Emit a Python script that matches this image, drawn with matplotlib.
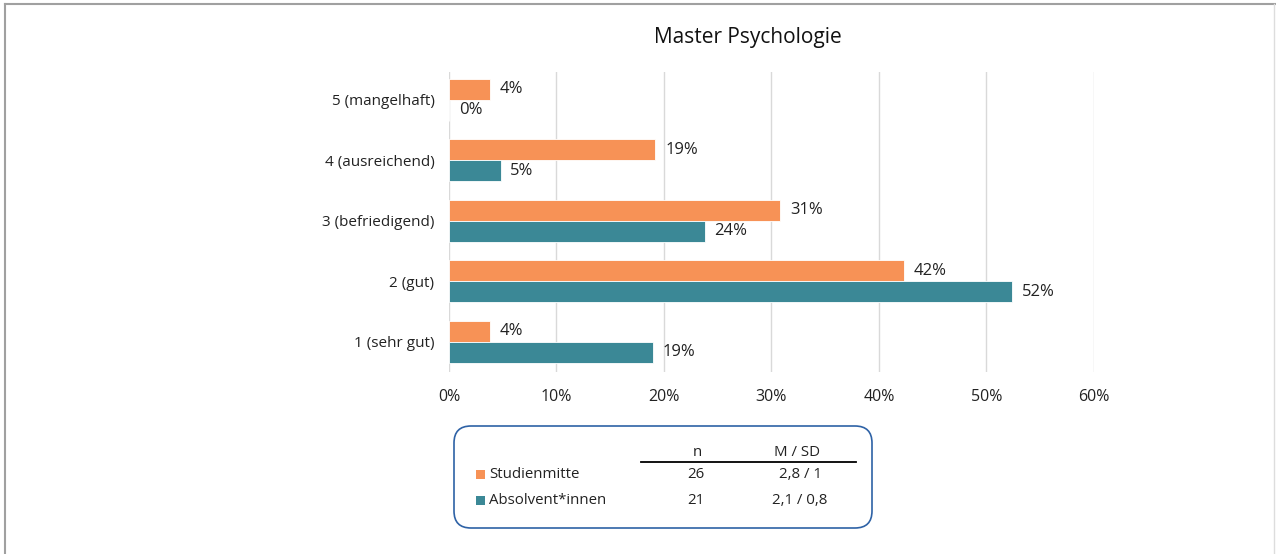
import matplotlib
matplotlib.use("Agg")
import matplotlib.pyplot as plt
from matplotlib.patches import FancyBboxPatch, Rectangle
import numpy as np

plt.rcParams['font.family'] = ['Open Sans', 'DejaVu Sans']

categories = ["1 (sehr gut)", "2 (gut)", "3 (befriedigend)", "4 (ausreichend)", "5 (mangelhaft)"]
studienmitte = [3.85, 42.3, 30.8, 19.2, 3.85]
absolventen = [19.0, 52.4, 23.8, 4.8, 0.0]
series_names = ["Studienmitte", "Absolvent*innen"]
n_values = ["26", "21"]
msd_values = ["2,8 / 1", "2,1 / 0,8"]
xticks = [0, 10, 20, 30, 40, 50, 60]
title = "Master Psychologie"

c_orange = "#F79256"
c_teal = "#3B8896"
txt = "#222222"

fig = plt.figure(figsize=(12.76, 5.54), dpi=100)
W, H = 1276, 554

# pixel-space overlay axes for frame, title and legend box
ov = fig.add_axes([0, 0, 1, 1], zorder=-1)
ov.set_xlim(0, W)
ov.set_ylim(H, 0)
ov.axis("off")
ov.plot([5, 5], [H, 4], color="#A0A0A0", lw=1.5)
ov.plot([5, W], [4, 4], color="#A0A0A0", lw=1.5)
ov.plot([1274, 1274], [4, H], color="#DDDDDD", lw=1)

ax = fig.add_axes([449/W, 1 - 372/H, (1094 - 449)/W, (372 - 72)/H])
y = np.arange(len(categories))
h = 0.35
b1 = ax.barh(y + h/2, studienmitte, height=h, color=c_orange, edgecolor="white", linewidth=0.6, zorder=3)
b2 = ax.barh(y - h/2, absolventen, height=h, color=c_teal, edgecolor="white", linewidth=0.6, zorder=3)
for bars, vals in ((b1, studienmitte), (b2, absolventen)):
    for bar, v in zip(bars, vals):
        ax.annotate(f"{round(v):d}%", (v, bar.get_y() + bar.get_height()/2),
                    xytext=(7, 0), textcoords="offset points", va="center", ha="left",
                    fontsize=12, color=txt)

ax.set_xlim(0, 60)
ax.set_ylim(-0.5, 4.46)
ax.set_xticks(xticks)
ax.set_xticklabels([f"{t}%" for t in xticks], fontsize=11.5, color=txt)
ax.set_yticks(y)
ax.set_yticklabels(categories, fontsize=11, color=txt)
ax.tick_params(axis="both", length=0)
ax.tick_params(axis="x", pad=12)
ax.tick_params(axis="y", pad=10.5)
ax.grid(axis="x", color="#D9D9D9", lw=1, zorder=0)
for s in ax.spines.values():
    s.set_visible(False)

ov.text(748, 38, title, ha="center", va="center", fontsize=15, color="#111111")

# legend box
box = FancyBboxPatch((454, 426), 872 - 454, 528 - 426,
                     boxstyle="round,pad=0,rounding_size=17",
                     facecolor="white", edgecolor="#2E62A6", lw=1.2)
ov.add_patch(box)
ov.text(697, 452, "n", ha="center", va="center", fontsize=10.8, color=txt)
ov.text(797, 452, "M / SD", ha="center", va="center", fontsize=10.8, color=txt)
ov.plot([641, 856], [462, 462], color="black", lw=1.3)
rows_y = [474, 500]
for ny, name, col, nv, mv in zip(rows_y, series_names, [c_orange, c_teal], n_values, msd_values):
    ov.add_patch(Rectangle((476, ny - 4), 9, 9, facecolor=col, edgecolor="none"))
    ov.text(489, ny, name, ha="left", va="center", fontsize=10.8, color=txt)
    ov.text(696, ny, nv, ha="center", va="center", fontsize=10.8, color=txt)
    ov.text(800, ny, mv, ha="center", va="center", fontsize=10.8, color=txt)

fig.savefig("out.png", dpi=100)
